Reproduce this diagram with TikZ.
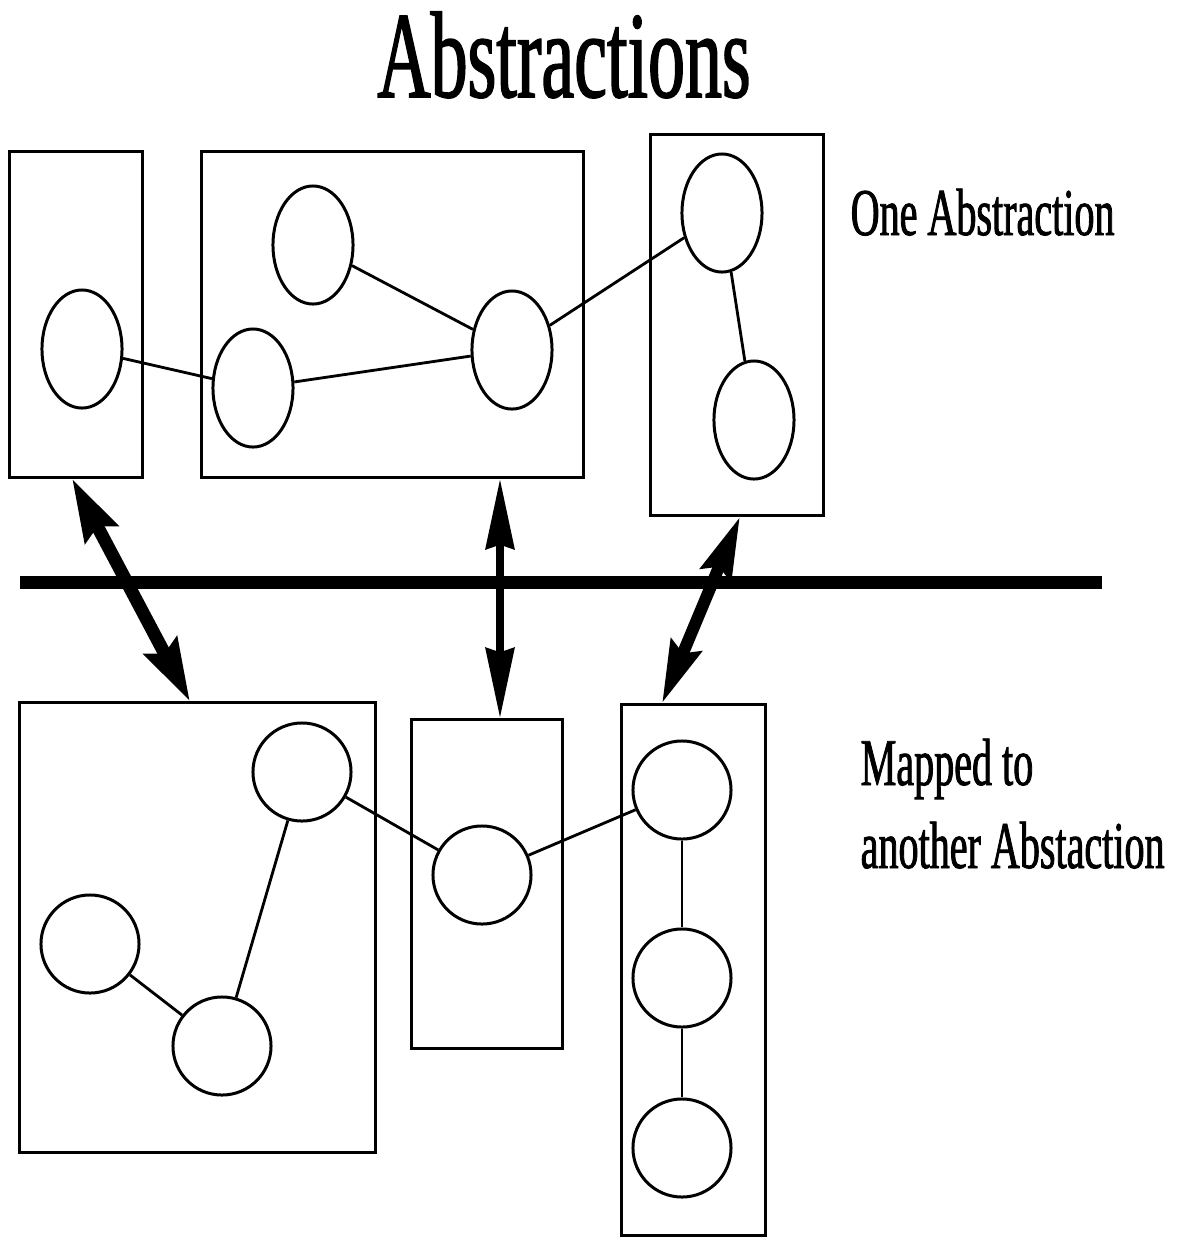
\documentclass[tikz,border=0pt]{standalone}
\usepackage{fontspec}
\newfontfamily\condfont[FakeStretch=0.6, FakeBold=1.2]{Liberation Serif}
\usetikzlibrary{arrows.meta,positioning,shapes.geometric}

\begin{document}
\begin{tikzpicture}[
    x=0.01cm, y=-0.01cm,
    box/.style={draw, line width=0.85pt, inner sep=0pt},
    blob/.style={draw, ellipse, line width=0.85pt, inner sep=0pt,
                 minimum width=0.8cm, minimum height=1.18cm},
    dot/.style={draw, circle, line width=0.85pt, inner sep=0pt, minimum size=0.98cm},
    link/.style={line width=0.8pt},
    maparr/.style={line width=0.13cm,
                   {Stealth[length=0.62cm, width=0.36cm, inset=0.08cm]}-{Stealth[length=0.62cm, width=0.36cm, inset=0.08cm]}},
    lbl/.style={font=\condfont\fontsize{19}{23}\selectfont, inner sep=0pt}
  ]
    \useasboundingbox (0,0) rectangle (1180,1238);

    % Title
    \node[font=\condfont\fontsize{35}{40}\selectfont, inner sep=0pt, anchor=base]
      (title) at (564,97) {Abstractions};

    % Top boxes
    \node[box, minimum width=1.32cm, minimum height=3.25cm] (t1) at (76,314.5) {};
    \node[box, minimum width=3.81cm, minimum height=3.25cm] (t2) at (392.5,314.5) {};
    \node[box, minimum width=1.72cm, minimum height=3.80cm] (t3) at (737,325) {};

    % Top ellipses
    \node[blob] (e1) at (82,349) {};
    \node[blob] (e2) at (313,245) {};
    \node[blob] (e3) at (253,388) {};
    \node[blob] (e4) at (512,350) {};
    \node[blob] (e5) at (722,213) {};
    \node[blob] (e6) at (754,420) {};

    \draw[link] (e1) -- (e3);
    \draw[link] (e3) -- (e4);
    \draw[link] (e2) -- (e4);
    \draw[link] (e4) -- (e5);
    \draw[link] (e5) -- (e6);

    \node[lbl, anchor=base west] (one) at (850,235) {One Abstraction};

    % Dividing line
    \coordinate (divl) at (20,582);
    \coordinate (divr) at (1102,582);
    \draw[line width=0.13cm] (divl) -- (divr);

    % Bottom boxes
    \node[box, minimum width=3.55cm, minimum height=4.49cm] (b1) at (197.5,927.5) {};
    \node[box, minimum width=1.50cm, minimum height=3.28cm] (b2) at (487,884) {};
    \node[box, minimum width=1.43cm, minimum height=5.30cm] (b3) at (693.5,970) {};

    % Bottom circles
    \node[dot] (c1) at (302,772) {};
    \node[dot] (c2) at (90,944) {};
    \node[dot] (c3) at (222,1046) {};
    \node[dot] (c4) at (482,875) {};
    \node[dot] (c5) at (682,790) {};
    \node[dot] (c6) at (682,978) {};
    \node[dot] (c7) at (682,1148) {};

    \draw[link] (c2) -- (c3);
    \draw[link] (c3) -- (c1);
    \draw[link] (c1) -- (c4);
    \draw[link] (c4) -- (c5);
    \draw[link] (c5) -- (c6);
    \draw[link] (c6) -- (c7);

    \node[lbl, anchor=base west] (map1) at (860,785) {Mapped to};
    \node[lbl, anchor=base west] (map2) at (860,868) {another Abstaction};

    % Mapping arrows
    \coordinate (p1) at (t1.south -| 72,0);
    \coordinate (q1) at (b1.north -| 190,0);
    \coordinate (p2) at (t2.south -| 500,0);
    \coordinate (q2) at (b2.north -| 500,0);
    \coordinate (p3) at (t3.south -| 740,0);
    \coordinate (q3) at (b3.north -| 662,0);

    \draw[maparr] (p1) -- (q1);
    \draw[maparr, line width=0.08cm,
          {Stealth[length=0.7cm, width=0.28cm, inset=0.04cm]}-{Stealth[length=0.7cm, width=0.28cm, inset=0.04cm]}] (p2) -- (q2);
    \draw[maparr, line width=0.12cm,
          {Stealth[length=0.62cm, width=0.32cm, inset=0.08cm]}-{Stealth[length=0.62cm, width=0.32cm, inset=0.08cm]}] (p3) -- (q3);
\end{tikzpicture}
\end{document}
